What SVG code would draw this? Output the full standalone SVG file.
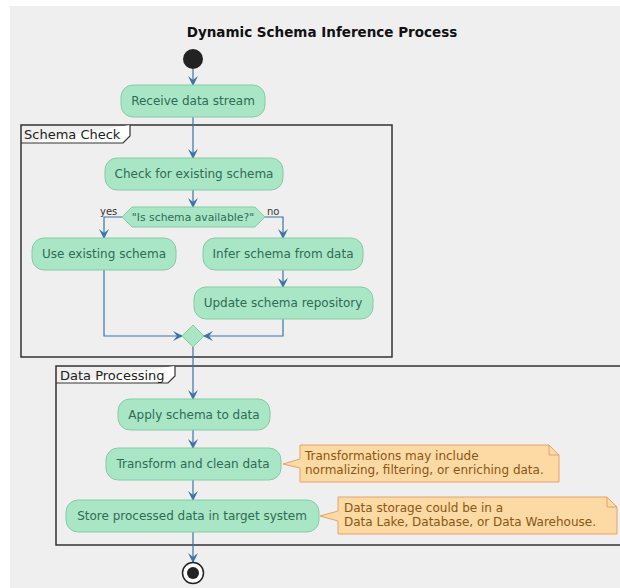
<svg xmlns="http://www.w3.org/2000/svg" width="620" height="588" viewBox="0 0 620 588">
  <defs>
    <marker id="arr" viewBox="0 0 10 10" refX="9" refY="5" markerWidth="10" markerHeight="10" markerUnits="userSpaceOnUse" orient="auto">
      <path d="M0,0 L10,5 L0,10 L4,5 z" fill="#3b74a8"/>
    </marker>
    <style>
      .act { fill: #a9e6c6; stroke: #86cba4; stroke-width: 1; }
      .at { font-family: "DejaVu Sans", Verdana, sans-serif; font-size: 12px; fill: #2f6b55; text-anchor: middle; }
      .dt { font-family: "DejaVu Sans", Verdana, sans-serif; font-size: 10.8px; fill: #2f6b55; text-anchor: middle; }
      .frame { fill: none; stroke: #333; stroke-width: 1.5; }
      .ft { font-family: "DejaVu Sans", sans-serif; font-size: 13px; fill: #222; }
      .edge { fill: none; stroke: #3b74a8; stroke-width: 1.2; }
      .note { fill: #fdd9a3; stroke: #e3a46a; stroke-width: 1; }
      .nt { font-family: "DejaVu Sans", sans-serif; font-size: 12px; fill: #8a5716; }
      .lbl { font-family: "DejaVu Sans", sans-serif; font-size: 10px; fill: #333; }
    </style>
  </defs>
  <rect x="10" y="6" width="610" height="582" fill="#efefef"/>
  <text x="322" y="37" text-anchor="middle" font-family="DejaVu Sans, sans-serif" font-size="13.5" font-weight="bold" fill="#111">Dynamic Schema Inference Process</text>

  <g id="frame-schema-check">
    <rect class="frame" x="21" y="125" width="371" height="232"/>
    <path d="M21,143 L123,143 L130,136 L130,125" fill="#fff" stroke="#333" stroke-width="1.2"/>
    <text class="ft" x="24" y="139">Schema Check</text>
  </g>
  <g id="frame-data-processing">
    <rect class="frame" x="56" y="366" width="580" height="179"/>
    <path d="M56,383 L168,383 L175,376 L175,366" fill="#fff" stroke="#333" stroke-width="1.2"/>
    <text class="ft" x="60" y="380">Data Processing</text>
  </g>

  <g id="edges">
    <path class="edge" d="M193,69 V85" marker-end="url(#arr)"/>
    <path class="edge" d="M193,117 V158" marker-end="url(#arr)"/>
    <path class="edge" d="M193,190 V207" marker-end="url(#arr)"/>
    <path class="edge" d="M122,217 H104 V238" marker-end="url(#arr)"/>
    <path class="edge" d="M265,217 H283 V238" marker-end="url(#arr)"/>
    <path class="edge" d="M283,270 V287" marker-end="url(#arr)"/>
    <path class="edge" d="M104,270 V336 H182" marker-end="url(#arr)"/>
    <path class="edge" d="M283,319 V336 H204" marker-end="url(#arr)"/>
    <path class="edge" d="M193,347 V399" marker-end="url(#arr)"/>
    <path class="edge" d="M193,430 V448" marker-end="url(#arr)"/>
    <path class="edge" d="M193,480 V500" marker-end="url(#arr)"/>
    <path class="edge" d="M193,532 V562" marker-end="url(#arr)"/>
    <text class="lbl" x="100" y="215">yes</text>
    <text class="lbl" x="267" y="215">no</text>
  </g>

  <g id="start">
    <circle cx="193" cy="59" r="10" fill="#222"/>
  </g>
  <g id="receive">
    <rect class="act" x="121" y="85" width="144" height="32" rx="12"/>
    <text class="at" x="193" y="105">Receive data stream</text>
  </g>
  <g id="check">
    <rect class="act" x="105" y="158" width="178" height="32" rx="12"/>
    <text class="at" x="194" y="178">Check for existing schema</text>
  </g>
  <g id="decision">
    <path class="act" d="M122,217 L132,207 L255,207 L265,217 L255,227 L132,227 z"/>
    <text class="dt" x="193" y="221">"Is schema available?"</text>
  </g>
  <g id="use-existing">
    <rect class="act" x="32" y="238" width="144" height="32" rx="12"/>
    <text class="at" x="104" y="258">Use existing schema</text>
  </g>
  <g id="infer">
    <rect class="act" x="203" y="238" width="160" height="32" rx="12"/>
    <text class="at" x="283" y="258">Infer schema from data</text>
  </g>
  <g id="update">
    <rect class="act" x="194" y="287" width="179" height="32" rx="12"/>
    <text class="at" x="283" y="307">Update schema repository</text>
  </g>
  <g id="merge">
    <path class="act" d="M193,325 L204,336 L193,347 L182,336 z"/>
  </g>
  <g id="apply">
    <rect class="act" x="118" y="399" width="152" height="31" rx="12"/>
    <text class="at" x="194" y="419">Apply schema to data</text>
  </g>
  <g id="transform">
    <rect class="act" x="106" y="448" width="175" height="32" rx="12"/>
    <text class="at" x="193" y="468">Transform and clean data</text>
  </g>
  <g id="store">
    <rect class="act" x="66" y="500" width="253" height="32" rx="12"/>
    <text class="at" x="192" y="520">Store processed data in target system</text>
  </g>
  <g id="note-transform">
    <path class="note" d="M300,445 L549,445 L559,455 L559,482 L300,482 L300,468 L283,464 L300,459 z"/>
    <path d="M549,445 L549,455 L559,455" fill="none" stroke="#e3a46a" stroke-width="1"/>
    <text class="nt" x="305" y="460">Transformations may include</text>
    <text class="nt" x="305" y="474">normalizing, filtering, or enriching data.</text>
  </g>
  <g id="note-store">
    <path class="note" d="M338,497 L607,497 L617,507 L617,534 L338,534 L338,521 L320,516 L338,511 z"/>
    <path d="M607,497 L607,507 L617,507" fill="none" stroke="#e3a46a" stroke-width="1"/>
    <text class="nt" x="344" y="512">Data storage could be in a</text>
    <text class="nt" x="344" y="526">Data Lake, Database, or Data Warehouse.</text>
  </g>
  <g id="end">
    <circle cx="193" cy="573" r="10.5" fill="#fff" stroke="#222" stroke-width="1.5"/>
    <circle cx="193" cy="573" r="6" fill="#222"/>
  </g>
</svg>
